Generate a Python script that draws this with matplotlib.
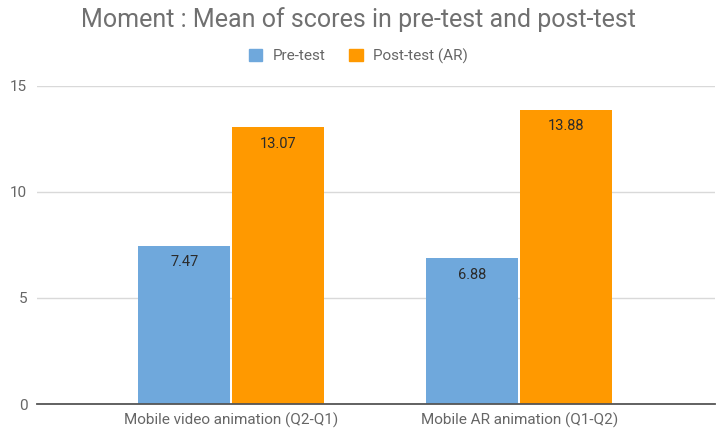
import matplotlib
matplotlib.use("Agg")
import matplotlib.pyplot as plt
import numpy as np
from matplotlib.patches import Rectangle

categories = ["Mobile video animation (Q2-Q1)", "Mobile AR animation (Q1-Q2)"]
pre_test = [7.47, 6.88]
post_test = [13.07, 13.88]
series_names = ["Pre-test", "Post-test (AR)"]
yticks = [0, 5, 10, 15]

plt.rcParams['font.family'] = ['Roboto', 'DejaVu Sans']
fig = plt.figure(figsize=(7.17, 4.32), dpi=100)
ax = fig.add_axes([0.0516, 0.0648, 0.9456, 0.7362])

x = np.arange(len(categories))
w = 0.32
c_pre = "#6fa8dc"
c_post = "#ff9900"
b1 = ax.bar(x - w/2 - 0.003, pre_test, w, color=c_pre, zorder=3)
b2 = ax.bar(x + w/2 + 0.003, post_test, w, color=c_post, zorder=3)

for bars, vals in ((b1, pre_test), (b2, post_test)):
    for b, v in zip(bars, vals):
        ax.annotate(f"{v:.2f}", (b.get_x() + b.get_width()/2, v), xytext=(0, -12),
                    textcoords="offset points", ha="center", va="center",
                    fontsize=10.5, color="#2b2b2b", zorder=4)

ax.set_xlim(-0.674, 1.68)
ax.set_ylim(0, 15)
ax.set_yticks(yticks)
ax.set_xticks(x)
ax.set_xticklabels(categories)
ax.tick_params(axis='both', length=0, labelsize=11, labelcolor="#666666")
ax.tick_params(axis='y', pad=7)
ax.tick_params(axis='x', pad=6)
ax.grid(axis='y', color="#d9d9d9", linewidth=1, zorder=0)
for s in ("top", "right", "left"):
    ax.spines[s].set_visible(False)
ax.spines["bottom"].set_color("#555555")
ax.spines["bottom"].set_linewidth(1.3)
ax.spines["bottom"].set_zorder(5)

fig.text(0.5, 0.955, "Moment : Mean of scores in pre-test and post-test", ha="center", va="center",
         fontsize=18, color="#707070")

# legend
handles = [Rectangle((0, 0), 1, 1, color=c_pre), Rectangle((0, 0), 1, 1, color=c_post)]
fig.legend(handles, series_names, loc="center", bbox_to_anchor=(0.5, 0.87), ncol=2, frameon=False,
           fontsize=11, labelcolor="#666666", handlelength=0.9, handleheight=0.9,
           handletextpad=0.7, columnspacing=1.5)

fig.savefig("out.png", dpi=100)
